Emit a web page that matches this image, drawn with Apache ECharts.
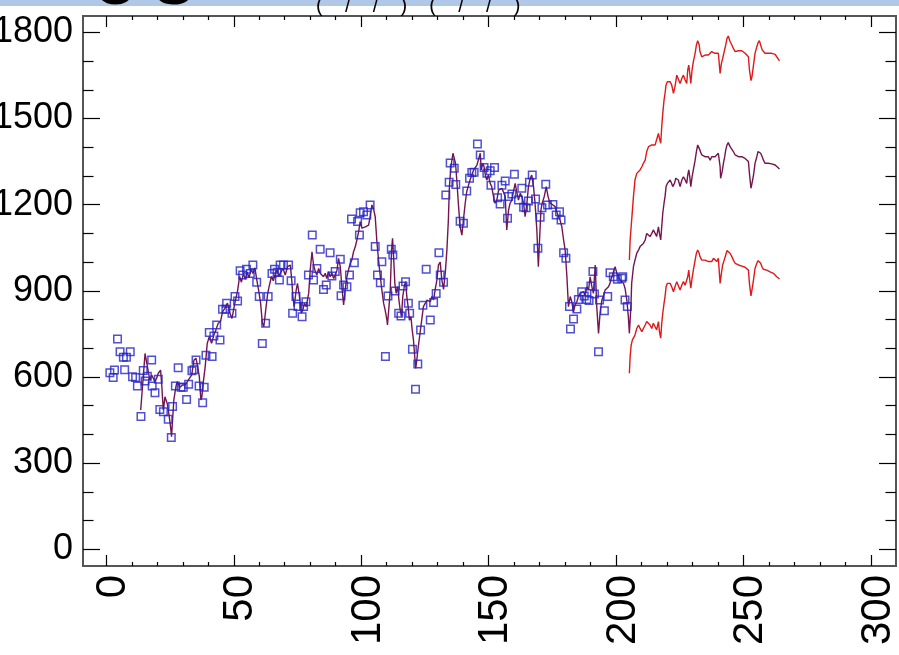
<!DOCTYPE html>
<html>
<head>
<meta charset="utf-8">
<script src="https://cdn.jsdelivr.net/npm/echarts@6/dist/echarts.min.js"></script>
<style>
html,body{margin:0;padding:0;background:#fff;}
#chart{width:899px;height:655px;}
</style>
</head>
<body>
<div id="chart"></div>
<script>
// Observed values (blue squares): [x, value]
const observed = [
[1.4,615],[2.7,598],[3.2,624],[4.4,732],[5.4,688],[6.7,669],[7.2,625],[7.9,669],[9.4,688],[10.3,601],
[11.5,598],[12.2,569],[13.6,462],[14.5,623],[15.2,586],[16.1,603],[17.8,659],[18.0,569],[19.1,545],[20.4,592],
[21.0,487],[22.4,479],[24.3,453],[25.5,389],[26.0,497],[27.1,569],[28.2,632],[29.3,564],[30.2,564],[31.5,522],
[32.3,575],[33.6,622],[34.4,625],[35.2,659],[36.4,569],[37.8,510],[38.4,564],[39.1,676],[40.4,755],[41.5,671],
[42.2,743],[43.3,781],[44.6,729],[45.6,836],[46.9,836],[47.2,857],[49.3,822],[50.5,880],[51.5,865],[52.5,970],
[53.5,955],[55.0,975],[56.5,960],[57.5,990],[59.0,930],[60.0,880],[61.2,717],[62.5,787],[63.5,880],[65.0,960],
[66.0,975],[67.0,965],[67.9,938],[68.2,990],[69.5,990],[71.5,990],[72.5,935],[73.1,822],[74.4,880],[75.2,845],
[76.8,810],[77.4,845],[78.3,862],[79.3,955],[80.8,1094],[81.3,938],[82.6,978],[83.9,1045],[85.2,905],[86.3,920],
[87.8,1033],[88.5,952],[89.8,967],[91.8,1010],[92.1,883],[93.1,920],[94.4,914],[95.4,955],[96.2,1150],[97.3,998],
[98.6,1141],[99.3,1094],[99.6,1172],[100.9,1175],[102.2,1164],[103.5,1199],[105.5,1054],[106.4,955],[107.5,928],[108.1,1001],
[109.5,671],[110.5,882],[111.8,1045],[112.4,1025],[113.3,899],[114.7,822],[115.6,812],[116.4,917],[117.4,932],[118.5,857],
[119.0,822],[120.1,697],[121.3,557],[122.2,645],[123.3,764],[124.2,850],[125.5,975],[127.1,798],[128.4,859],[129.4,891],
[130.5,1033],[131.0,955],[132.3,930],[133.2,1234],[134.5,1278],[134.9,1345],[136.5,1327],[137.1,1270],[138.8,1142],[140.1,1135],
[141.4,1248],[142.5,1292],[143.4,1312],[144.3,1313],[145.6,1411],[146.7,1373],[148.2,1329],[149.3,1309],[150.6,1318],[150.9,1268],
[152.3,1329],[153.5,1224],[154.5,1202],[155.2,1268],[156.5,1282],[157.4,1153],[157.8,1228],[159.1,1237],[160.1,1306],[161.7,1216],
[163.0,1257],[163.7,1191],[164.7,1189],[165.6,1213],[166.0,1278],[167.1,1303],[168.4,1220],[169.3,1048],[170.2,1156],[170.9,1189],
[172.4,1271],[173.1,1199],[175.2,1201],[176.5,1164],[177.8,1175],[178.4,1147],[179.4,1033],[180.3,1013],[181.7,845],[182.1,767],
[183.3,802],[184.6,837],[185.2,870],[186.5,897],[187.5,882],[188.5,870],[189.4,866],[190.1,917],[190.9,967],[191.5,889],
[193.1,688],[193.5,868],[195.4,831],[196.7,880],[197.6,963],[198.9,949],[200.5,940],[202.2,944],[202.6,949],[203.5,868],
[204.4,845]
];

// Fitted / simulated median line (purple): [x, value]
const fitted = [
[13.5,485],[15.2,682],[16.5,618],[17.1,589],[17.8,607],[18.4,601],[19.1,584],[19.7,595],[20.4,613],[21.3,624],
[21.8,566],[22.1,520],[22.4,485],[23.0,531],[23.4,537],[23.9,508],[24.7,462],[25.2,427],[25.6,392],[26.0,450],
[26.5,520],[27.3,566],[27.8,584],[28.9,564],[29.9,572],[30.9,572],[31.8,584],[32.5,584],[33.5,607],[34.4,659],
[35.2,665],[35.7,642],[36.5,601],[37.1,520],[37.5,531],[38.0,578],[38.8,636],[39.6,717],[40.4,740],[41.3,717],
[42.2,746],[43.0,764],[43.9,787],[44.8,793],[45.6,827],[46.5,839],[47.5,857],[48.5,822],[49.3,804],[50.5,860],
[51.5,900],[52.3,950],[53.0,930],[53.8,960],[54.5,940],[55.3,965],[56.0,945],[56.8,975],[57.5,960],[58.3,980],
[59.0,940],[59.8,900],[60.5,860],[61.2,790],[61.8,775],[62.5,830],[63.3,890],[64.0,920],[64.8,950],[65.5,935],
[66.3,960],[67.0,975],[67.6,950],[68.2,961],[69.3,978],[70.2,955],[71.1,984],[72.2,990],[72.8,932],[73.2,880],
[73.7,845],[74.5,903],[75.0,926],[75.8,880],[76.5,822],[77.1,833],[77.7,856],[78.4,845],[79.4,891],[80.0,972],
[80.7,1036],[81.3,990],[82.0,967],[82.6,955],[83.3,978],[83.9,961],[84.6,967],[85.2,949],[85.9,961],[86.5,943],
[87.2,967],[87.8,949],[88.5,961],[89.2,943],[89.8,955],[90.5,972],[91.1,1013],[91.8,984],[92.4,915],[93.1,851],
[93.7,903],[94.4,949],[95.0,972],[95.7,996],[96.3,1007],[97.0,1036],[97.7,1054],[98.3,1077],[99.0,1106],[99.6,1141],
[100.3,1118],[100.9,1121],[101.6,1123],[102.2,1118],[102.9,1129],[103.5,1158],[104.2,1199],[104.8,1187],[105.5,1158],[106.1,1077],
[106.8,1007],[107.5,949],[108.1,903],[108.8,856],[109.4,833],[110.1,798],[110.3,781],[110.9,845],[111.4,903],[111.9,1042],
[112.3,1083],[112.7,1019],[113.2,926],[113.7,891],[114.3,915],[114.8,868],[115.3,833],[115.8,810],[116.3,880],[116.9,915],
[117.4,932],[117.9,880],[118.4,845],[118.9,798],[119.5,810],[120.0,764],[120.5,729],[121.0,671],[121.4,630],[121.8,659],
[122.4,706],[122.9,740],[123.4,775],[123.9,810],[124.4,845],[125.1,856],[125.8,868],[126.4,874],[127.1,862],[127.7,880],
[128.4,868],[129.0,903],[129.7,938],[130.3,990],[131.0,1000],[131.6,940],[132.3,905],[133.0,965],[133.6,1040],[134.2,1147],
[134.6,1263],[135.2,1332],[136.0,1379],[136.5,1385],[137.0,1344],[137.5,1286],[138.2,1193],[138.8,1123],[139.5,1094],[140.1,1147],
[140.8,1205],[141.4,1245],[142.1,1268],[142.7,1286],[143.4,1303],[144.1,1321],[144.7,1326],[145.4,1338],[146.0,1344],[146.7,1379],
[147.1,1321],[147.7,1344],[148.2,1332],[148.8,1298],[149.3,1286],[149.9,1303],[150.6,1274],[151.2,1263],[151.9,1228],[152.5,1205],
[153.2,1216],[153.9,1251],[154.5,1245],[155.2,1257],[155.8,1263],[156.5,1228],[157.1,1112],[157.8,1181],[158.4,1205],[159.1,1216],
[159.7,1245],[160.4,1274],[161.0,1245],[161.7,1216],[162.4,1240],[163.0,1228],[163.7,1205],[164.3,1158],[165.0,1205],[165.6,1263],
[166.3,1292],[166.9,1303],[167.6,1263],[168.2,1205],[168.9,1112],[169.5,984],[169.9,1065],[170.5,1181],[171.0,1205],[171.8,1228],
[172.6,1263],[173.3,1228],[174.1,1205],[175.2,1199],[176.1,1193],[176.7,1176],[177.4,1158],[178.0,1147],[178.7,1123],[179.4,1077],
[180.0,1042],[180.7,949],[181.3,845],[182.0,880],[182.6,862],[183.3,827],[183.9,851],[184.6,862],[185.2,880],[185.9,891],
[186.5,885],[187.2,897],[187.8,885],[188.5,914],[189.2,903],[189.8,949],[190.5,914],[191.1,891],[191.8,990],[192.4,845],
[193.1,752],[193.7,822],[194.4,868],[195.0,880],[195.7,903],[196.3,909],[197.0,914],[197.6,926],[198.3,949],[199.0,967],
[199.6,984],[200.3,961],[201.0,949],[201.6,938],[202.2,938],[202.9,926],[203.5,909],[204.2,868],[204.8,810],[205.2,752],
[205.8,845],[206.1,926],[206.8,984],[207.4,1007],[208.1,1031],[208.8,1042],[209.4,1054],[210.1,1054],[210.7,1065],[211.4,1077],
[212.0,1100],[212.7,1100],[213.3,1089],[214.0,1100],[214.6,1112],[215.3,1100],[215.9,1089],[216.6,1123],[217.0,1100],[217.5,1077],
[217.9,1123],[218.3,1170],[218.8,1205],[219.2,1228],[219.6,1263],[220.1,1274],[220.6,1280],[221.2,1286],[221.8,1274],[222.2,1263],
[222.9,1274],[223.4,1292],[223.8,1297],[224.4,1286],[225.1,1263],[225.8,1286],[226.4,1297],[227.1,1286],[227.7,1274],[228.1,1303],
[228.5,1321],[228.9,1297],[229.3,1263],[229.8,1297],[230.3,1321],[231.0,1355],[231.5,1385],[232.0,1408],[232.6,1396],[232.9,1390],
[233.6,1373],[234.2,1367],[234.9,1367],[235.6,1361],[236.2,1367],[236.9,1355],[237.5,1367],[238.2,1373],[238.8,1367],[239.5,1361],
[240.1,1379],[240.8,1332],[241.0,1292],[241.6,1315],[242.1,1344],[242.6,1367],[243.0,1390],[243.5,1408],[244.0,1416],[244.7,1402],
[245.4,1396],[246.0,1385],[246.7,1373],[247.3,1367],[248.0,1367],[248.6,1367],[249.3,1367],[249.9,1365],[250.6,1361],[251.2,1355],
[251.9,1350],[252.3,1309],[252.7,1274],[252.9,1257],[253.3,1274],[253.9,1303],[254.5,1344],[255.2,1367],[255.7,1385],[256.2,1390],
[256.7,1379],[257.3,1367],[257.8,1355],[258.4,1344],[259.1,1342],[259.7,1344],[260.4,1342],[261.0,1342],[261.7,1342],[262.4,1338],
[263.0,1332],[264.1,1324]
];

// Upper forecast bound (red)
const upperBound = [
[205.2,1007],[205.5,1077],[205.9,1123],[206.4,1181],[206.8,1228],[207.4,1286],[208.1,1309],[208.8,1315],[209.4,1321],[210.1,1332],
[210.7,1344],[211.4,1355],[212.0,1385],[212.7,1402],[213.3,1396],[214.0,1408],[214.6,1414],[215.3,1408],[215.9,1414],[216.6,1448],
[217.0,1431],[217.5,1414],[217.9,1472],[218.3,1518],[218.8,1564],[219.2,1588],[219.6,1617],[220.1,1628],[220.6,1632],[221.2,1628],
[221.8,1617],[222.5,1588],[223.1,1611],[223.8,1651],[224.4,1646],[225.1,1622],[225.8,1640],[226.4,1651],[227.1,1634],[227.7,1622],
[228.1,1669],[228.5,1686],[228.9,1657],[229.3,1622],[229.8,1669],[230.3,1698],[231.0,1727],[231.5,1756],[232.0,1771],[232.6,1756],
[232.9,1733],[233.6,1715],[234.2,1709],[234.9,1721],[235.6,1727],[236.2,1721],[236.9,1727],[237.5,1733],[238.2,1739],[238.8,1727],
[239.5,1721],[240.1,1727],[240.8,1657],[241.3,1692],[241.8,1709],[242.4,1733],[243.0,1756],[243.5,1779],[244.0,1787],[244.7,1768],
[245.4,1756],[246.0,1744],[246.7,1733],[247.3,1739],[248.0,1736],[248.6,1739],[249.3,1736],[249.9,1733],[250.6,1727],[251.2,1721],
[251.9,1715],[252.3,1669],[252.7,1646],[252.9,1632],[253.3,1646],[253.9,1686],[254.5,1727],[255.2,1750],[255.7,1764],[256.2,1771],
[256.7,1756],[257.3,1739],[257.8,1733],[258.4,1727],[259.1,1723],[259.7,1727],[260.4,1725],[261.0,1727],[261.7,1727],[262.4,1723],
[263.0,1715],[264.1,1701]
];

// Lower forecast bound (red)
const lowerBound = [
[205.2,613],[205.5,671],[205.9,711],[206.4,729],[206.8,735],[207.4,746],[208.1,769],[208.8,781],[209.4,769],[210.1,758],
[210.7,769],[211.4,781],[212.0,793],[212.7,798],[213.3,781],[214.0,769],[214.6,787],[215.3,775],[215.9,764],[216.6,793],
[217.0,758],[217.5,735],[217.9,787],[218.3,822],[218.8,856],[219.2,880],[219.6,914],[220.1,926],[220.6,928],[221.2,926],
[221.8,914],[222.5,897],[223.1,914],[223.8,932],[224.4,926],[225.1,903],[225.8,920],[226.4,932],[227.1,920],[227.7,914],
[228.1,949],[228.5,972],[228.9,938],[229.3,909],[229.8,944],[230.3,972],[231.0,1007],[231.5,1031],[232.0,1042],[232.6,1031],
[232.9,1019],[233.6,1007],[234.2,1002],[234.9,1007],[235.6,1007],[236.2,1002],[236.9,996],[237.5,1002],[238.2,1013],[238.8,1007],
[239.5,1002],[240.1,1013],[240.8,926],[241.3,961],[241.8,990],[242.4,1007],[243.0,1025],[243.5,1040],[244.0,1045],[244.7,1031],
[245.4,1019],[246.0,1007],[246.7,996],[247.3,990],[248.0,990],[248.6,990],[249.3,986],[249.9,984],[250.6,982],[251.2,978],
[251.9,972],[252.3,926],[252.7,897],[252.9,882],[253.3,903],[253.9,938],[254.5,978],[255.2,996],[255.7,1005],[256.2,1010],
[256.7,996],[257.3,982],[257.8,975],[258.4,970],[259.1,972],[259.7,970],[260.4,966],[261.0,967],[261.7,961],[262.4,955],
[263.0,949],[264.1,941]
];

// Axis ranges and ticks
const xRange = [-9.14, 309.8];
const yRange = [-58.1, 1856.9];
const xMajorTicks = [0, 50, 100, 150, 200, 250, 300];
const xMinorTicks = [10,20,30,40,60,70,80,90,110,120,130,140,160,170,180,190,210,220,230,240,260,270,280,290];
const yMajorTicks = [0, 300, 600, 900, 1200, 1500, 1800];
const yMinorTicks = [100,200,400,500,700,800,1000,1100,1300,1400,1600,1700];

const tickStyle = {color:'#000', width:1.2};
const gridBox = {left:83, top:16, right:3, bottom:89, outerBoundsMode:'none', containLabel:false};

function xAxisDef(gridIndex, position, ticks, len, labels) {
  return {
    gridIndex, type:'value', position, min:xRange[0], max:xRange[1],
    axisLine:{show:false, onZero:false}, splitLine:{show:false},
    axisTick:{show:true, inside:true, length:len, customValues:ticks, lineStyle:tickStyle},
    axisLabel: labels ? {show:true, customValues:ticks, rotate:90, margin:9,
      fontSize:42, fontFamily:'"Liberation Sans", Arial, sans-serif', color:'#000',
      verticalAlign:'top', lineHeight:14, formatter:(v)=>String(v)} : {show:false}
  };
}
function yAxisDef(gridIndex, position, ticks, len, labels) {
  return {
    gridIndex, type:'value', position, min:yRange[0], max:yRange[1],
    axisLine:{show:false, onZero:false}, splitLine:{show:false},
    axisTick:{show:true, inside:true, length:len, customValues:ticks, lineStyle:tickStyle},
    axisLabel: labels ? {show:true, customValues:ticks, margin:10,
      fontSize:36, fontFamily:'"Liberation Sans", Arial, sans-serif', color:'#000',
      formatter:(v)=>String(v)} : {show:false}
  };
}

const chart = echarts.init(document.getElementById('chart'), null, {renderer:'canvas'});
chart.setOption({
  animation:false,
  backgroundColor:'#ffffff',
  graphic:[
    {type:'rect', shape:{x:0,y:0,width:899,height:6}, style:{fill:'#b1c7e8'}, z:-1},
    {type:'text', x:93, y:-41, style:{text:'O S', font:'bold 58px "Liberation Sans"', fill:'#000'}},
    {type:'text', x:316, y:-4, style:{text:'(    /    /    )    (    /    /    )', font:'20px "Liberation Sans"', fill:'#000'}}
  ],
  grid:[
    Object.assign({show:true, borderColor:'#555', borderWidth:2, backgroundColor:'transparent'}, gridBox),
    Object.assign({show:false}, gridBox)
  ],
  xAxis:[
    xAxisDef(0, 'bottom', xMajorTicks, 11, true),
    xAxisDef(0, 'top', xMajorTicks, 11, false),
    xAxisDef(1, 'bottom', xMinorTicks, 4, false),
    xAxisDef(1, 'top', xMinorTicks, 4, false)
  ],
  yAxis:[
    yAxisDef(0, 'left', yMajorTicks, 17, true),
    yAxisDef(0, 'right', yMajorTicks, 17, false),
    yAxisDef(1, 'left', yMinorTicks, 10.5, false),
    yAxisDef(1, 'right', yMinorTicks, 10.5, false)
  ],
  series:[
    {type:'line', xAxisIndex:0, yAxisIndex:0, data:upperBound, showSymbol:false, lineStyle:{color:'#e01818', width:1.4}, z:2},
    {type:'line', xAxisIndex:0, yAxisIndex:0, data:lowerBound, showSymbol:false, lineStyle:{color:'#e01818', width:1.4}, z:2},
    {type:'line', xAxisIndex:0, yAxisIndex:0, data:fitted, showSymbol:false, lineStyle:{color:'#74154f', width:1.4}, z:3},
    {type:'scatter', xAxisIndex:0, yAxisIndex:0, data:observed, symbol:'rect', symbolSize:7.5,
     itemStyle:{color:'rgba(0,0,0,0)', borderColor:'#2424c4', borderWidth:1.5}, z:4}
  ]
});
</script>
</body>
</html>
